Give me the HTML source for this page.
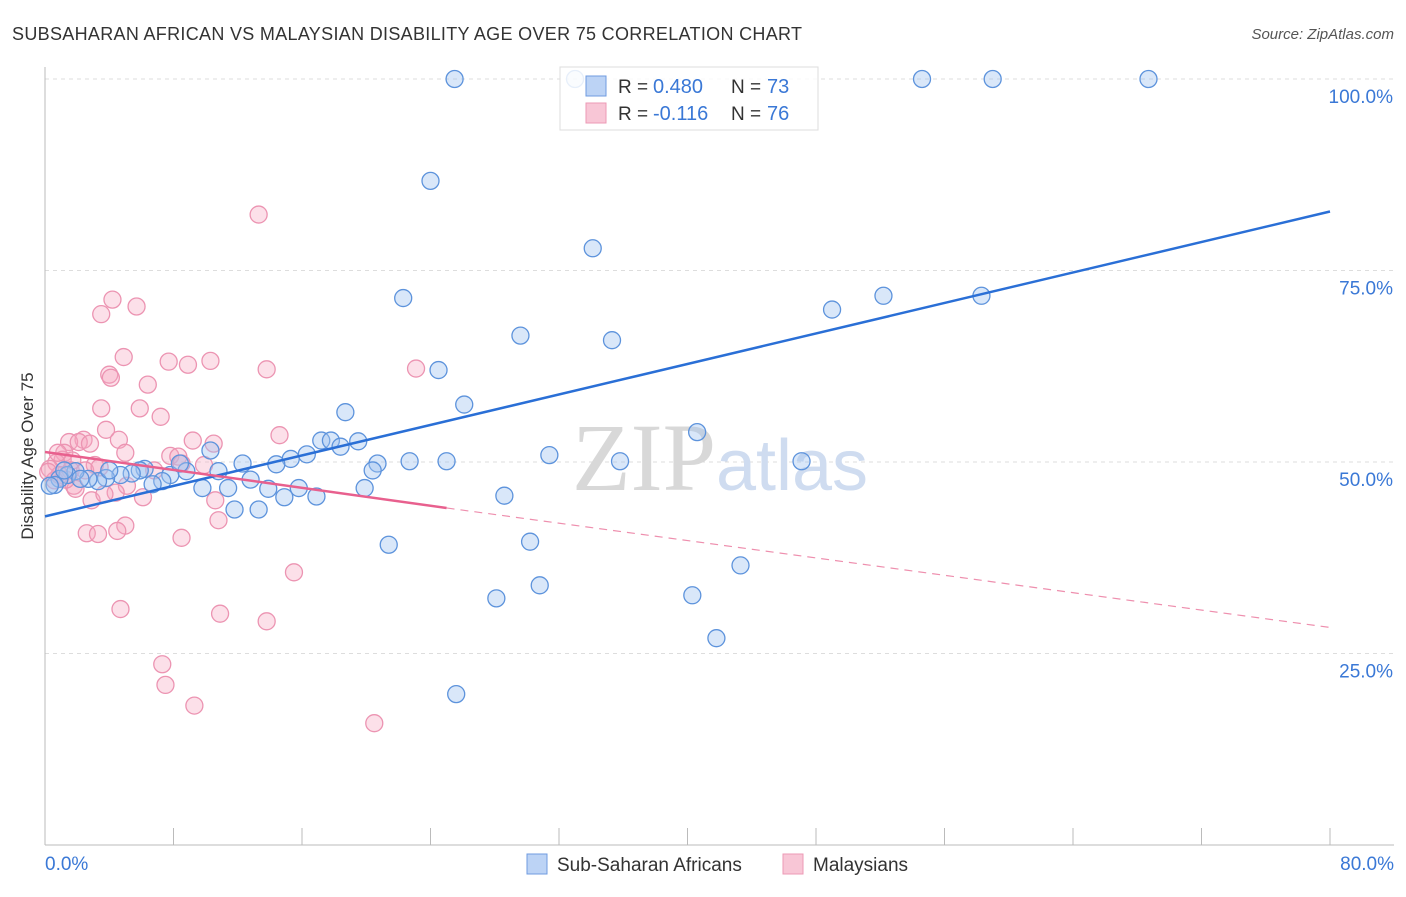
<!DOCTYPE html>
<html><head><meta charset="utf-8"><style>
body{margin:0;background:#fff;font-family:"Liberation Sans",sans-serif;}
svg text{font-family:"Liberation Sans",sans-serif;}
</style></head><body>
<svg width="1406" height="892" viewBox="0 0 1406 892">
<text x="12" y="40" font-size="18" fill="#333" textLength="790">SUBSAHARAN AFRICAN VS MALAYSIAN DISABILITY AGE OVER 75 CORRELATION CHART</text>
<text x="1394" y="39" font-size="15" fill="#555" text-anchor="end" font-style="italic">Source: ZipAtlas.com</text>
<g id="grid"></g>
<text x="720" y="490" font-size="96" fill="#ddd" text-anchor="middle" font-family="Liberation Serif"><tspan fill="#d8d8d8" font-family="Liberation Serif">ZIP</tspan><tspan fill="#cfdcf0" font-family="Liberation Sans" font-size="72">atlas</tspan></text>
<text transform="translate(33,456) rotate(-90)" font-size="17" fill="#333" text-anchor="middle">Disability Age Over 75</text>
<g id="pts"></g>
<g id="lines"></g>
<g>
<rect x="560" y="67" width="258" height="63" fill="rgba(255,255,255,0.85)" stroke="#ddd"/>
<rect x="586" y="76" width="20" height="20" fill="#bcd3f5" stroke="#6f9be0"/>
<rect x="586" y="103" width="20" height="20" fill="#f8c6d6" stroke="#ec9ab5"/>
<text x="618" y="93" font-size="19" fill="#333">R =</text>
<text x="653" y="93" font-size="20" fill="#3a78d6">0.480</text>
<text x="731" y="93" font-size="19" fill="#333">N =</text>
<text x="767" y="93" font-size="20" fill="#3a78d6">73</text>
<text x="618" y="120" font-size="19" fill="#333">R =</text>
<text x="653" y="120" font-size="20" fill="#3a78d6">-0.116</text>
<text x="731" y="120" font-size="19" fill="#333">N =</text>
<text x="767" y="120" font-size="20" fill="#3a78d6">76</text>
</g>
<g>
<rect x="527" y="854" width="20" height="20" fill="#bcd3f5" stroke="#6f9be0"/>
<text x="557" y="871" font-size="19" fill="#333">Sub-Saharan Africans</text>
<rect x="783" y="854" width="20" height="20" fill="#f8c6d6" stroke="#ec9ab5"/>
<text x="813" y="871" font-size="19" fill="#333">Malaysians</text>
</g>
</svg>
<script>
const xTicks=[0,8,16,24,32,40,48,56,64,72,80];
const yTicks=[25,50,75,100];
const blueX=[25.5,33,54.6,59,68.7,24,34.1,22.3,52.2,58.3,49,29.6,35.3,24.5,26.1,18.7,17.2,17.8,18.4,19.5,40.6,31.4,35.8,47.1,25,22.7,20.7,20.4,16.3,15.3,14.4,12.3,10.3,10.8,12.8,15.8,14.9,16.9,13.9,11.8,13.3,11.4,9.8,8.8,7.8,7.3,6.7,6.2,5.9,5.4,4.7,3.8,3.3,2.7,1.9,1.4,0.9,0.6,0.3,8.4,19.9,28.6,21.4,30.2,30.8,28.1,40.3,43.3,41.8,25.6,1.2,2.2,4.0];
const blueY=[100,100,100,100,100,86.7,77.9,71.4,71.7,71.7,69.9,66.5,65.9,62,57.5,56.5,52.8,52.8,52,52.7,53.9,50.9,50.1,50.1,50.1,50.1,49.8,48.9,51,50.4,49.7,49.8,51.5,48.8,47.7,46.6,45.4,45.5,46.5,43.8,43.8,46.6,46.6,48.8,48.3,47.5,47.1,49.1,48.9,48.5,48.3,47.9,47.5,47.8,48.8,48.3,47.8,47,46.9,49.8,46.6,45.6,39.2,39.6,33.9,32.2,32.6,36.5,27,19.7,48.9,47.8,48.9];
const pinkX=[13.3,4.2,5.7,3.5,4.9,4.0,4.1,7.7,10.3,8.9,13.8,23.1,6.4,3.5,5.9,7.2,3.8,14.6,2.4,1.5,2.1,4.6,9.2,10.5,1.2,2.8,5.0,7.8,8.3,8.5,1.1,1.7,0.7,0.3,3.1,0.9,1.8,1.9,5.1,4.4,6.1,2.9,3.7,10.6,10.8,5.0,2.6,3.3,4.5,8.5,15.5,4.7,10.9,13.8,7.3,7.5,9.3,20.5,9.9,6.8,1.6,2.5,0.6,0.2,1.3,0.8,3.4];
const pinkY=[82.3,71.2,70.3,69.3,63.7,61.4,61,63.1,63.2,62.7,62.1,62.2,60.1,57,57,55.9,54.2,53.5,52.9,52.6,52.6,52.9,52.8,52.4,51.2,52.4,51.2,50.8,50.7,49.8,50.3,50.2,49.9,49.1,49.6,48.3,46.9,46.5,46.9,46,45.4,45,45.8,45,42.4,41.7,40.7,40.6,41,40.1,35.6,30.8,30.2,29.2,23.6,20.9,18.2,15.9,49.6,48.9,48.9,48.9,47.6,48.7,47.7,51.2,49.3];
const blueLine=[[0,42.9],[80,82.7]];
const pinkSolid=[[0,51.3],[25,44.0]];
const pinkDash=[[25,44.0],[80,28.4]];
const X0=45,X1=1330,Y0=845,Y100=79;
const sx=v=>X0+(X1-X0)*v/80, sy=v=>Y0-(Y0-Y100)*v/100;
const NS="http://www.w3.org/2000/svg";
function mk(t,a,p){const e=document.createElementNS(NS,t);for(const k in a)e.setAttribute(k,a[k]);p.appendChild(e);return e;}
const grid=document.getElementById('grid');
for(const t of yTicks){const l=mk('line',{x1:X0,x2:1394,y1:sy(t),y2:sy(t),stroke:'#ddd','stroke-dasharray':'4,4'},grid);


const tx=mk('text',{x:1393,y:sy(t)+24,'font-size':19,fill:'#3a78d6','text-anchor':'end'},grid);tx.textContent=t.toFixed(1)+'%';

}
mk('line',{x1:X0,x2:X0,y1:67,y2:Y0,stroke:'#bbb'},grid);
mk('line',{x1:X0,x2:1394,y1:Y0,y2:Y0,stroke:'#bbb'},grid);
for(const t of xTicks){const l=mk('line',{x1:sx(t),x2:sx(t),y1:828,y2:Y0,stroke:'#bbb'},grid);

}
const xl=[[0,'0.0%','start',45],[80,'80.0%','end',1394]];
for(const [v,s,a,px] of xl){const tx=mk('text',{x:px,y:870,'font-size':19,fill:'#3a78d6','text-anchor':a},grid);tx.textContent=s;

}
const pts=document.getElementById('pts');
pinkX.forEach((x,i)=>{const c=mk('circle',{cx:sx(x),cy:sy(pinkY[i]),r:8.5,fill:'rgba(245,165,192,0.35)',stroke:'#ec94b2','stroke-width':1.3},pts);

});
blueX.forEach((x,i)=>{const c=mk('circle',{cx:sx(x),cy:sy(blueY[i]),r:8.5,fill:'rgba(160,195,240,0.4)',stroke:'#5d93dc','stroke-width':1.3},pts);

});
const L=document.getElementById('lines');
const bl=mk('line',{x1:sx(blueLine[0][0]),y1:sy(blueLine[0][1]),x2:sx(blueLine[1][0]),y2:sy(blueLine[1][1]),stroke:'#2a6fd6','stroke-width':2.5},L);


const ps=mk('line',{x1:sx(pinkSolid[0][0]),y1:sy(pinkSolid[0][1]),x2:sx(pinkSolid[1][0]),y2:sy(pinkSolid[1][1]),stroke:'#e8608e','stroke-width':2.5},L);


const pd=mk('line',{x1:sx(pinkDash[0][0]),y1:sy(pinkDash[0][1]),x2:sx(pinkDash[1][0]),y2:sy(pinkDash[1][1]),stroke:'#ee8fae','stroke-width':1.2,'stroke-dasharray':'8,6'},L);


</script>
</body></html>
